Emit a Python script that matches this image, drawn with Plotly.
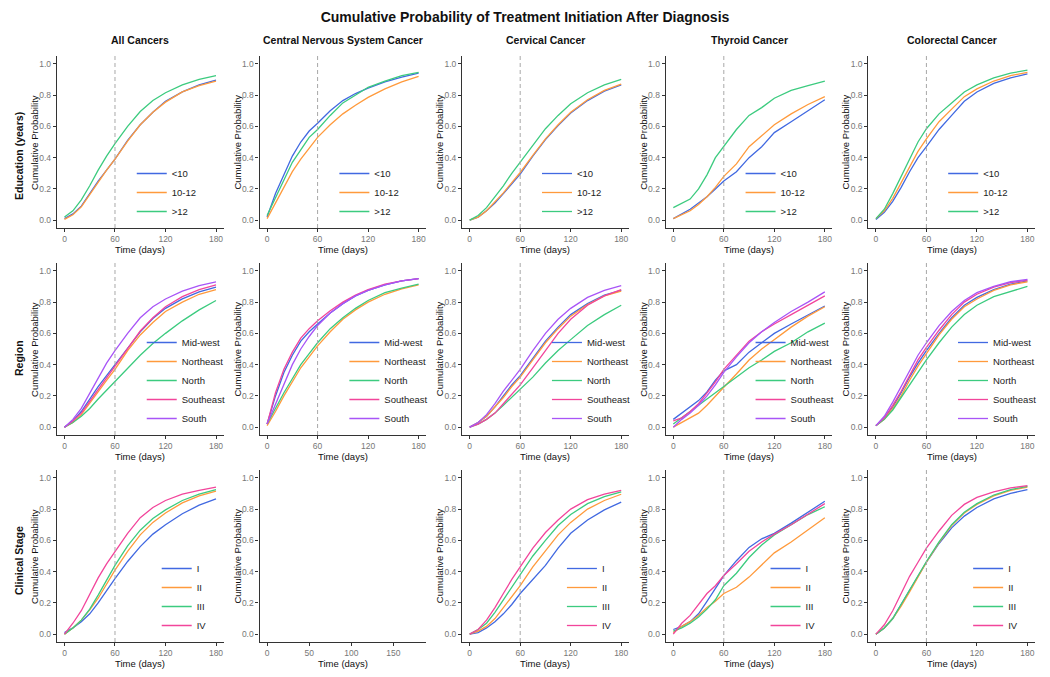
import plotly.graph_objects as go

days = [0, 10, 20, 30, 40, 50, 60, 75, 90, 105, 120, 140, 160, 180]

cancers = ["All Cancers", "Central Nervous System Cancer", "Cervical Cancer",
           "Thyroid Cancer", "Colorectal Cancer"]
row_labels = ["Education (years)", "Region", "Clinical Stage"]

colors = {
    "<10": "#4169E1", "10-12": "#FF9A3C", ">12": "#3CCB7F",
    "Mid-west": "#4169E1", "Northeast": "#FF9A3C", "North": "#3CCB7F",
    "Southeast": "#F2459B", "South": "#A855F7",
    "I": "#4169E1", "II": "#FF9A3C", "III": "#3CCB7F", "IV": "#F2459B",
}

# education (years)
edu_all = {
    "<10": [0.01, 0.04, 0.09, 0.17, 0.25, 0.32, 0.39, 0.51, 0.61, 0.69, 0.76, 0.82, 0.865, 0.895],
    "10-12": [0.005, 0.035, 0.085, 0.165, 0.245, 0.32, 0.39, 0.505, 0.61, 0.69, 0.755, 0.82, 0.86, 0.89],
    ">12": [0.02, 0.06, 0.13, 0.22, 0.32, 0.41, 0.49, 0.60, 0.695, 0.765, 0.815, 0.865, 0.90, 0.925],
}
edu_cns = {
    "<10": [0.02, 0.17, 0.29, 0.41, 0.50, 0.57, 0.62, 0.70, 0.765, 0.81, 0.845, 0.885, 0.915, 0.94],
    "10-12": [0.01, 0.11, 0.21, 0.31, 0.39, 0.46, 0.53, 0.61, 0.68, 0.735, 0.785, 0.84, 0.885, 0.92],
    ">12": [0.03, 0.14, 0.26, 0.37, 0.45, 0.53, 0.58, 0.67, 0.75, 0.80, 0.85, 0.89, 0.925, 0.945],
}
edu_cervical = {
    "<10": [0.0, 0.02, 0.06, 0.11, 0.17, 0.23, 0.295, 0.41, 0.515, 0.605, 0.685, 0.765, 0.825, 0.865],
    "10-12": [0.0, 0.02, 0.06, 0.115, 0.175, 0.24, 0.305, 0.415, 0.52, 0.61, 0.69, 0.77, 0.83, 0.87],
    ">12": [0.0, 0.03, 0.08, 0.15, 0.22, 0.30, 0.37, 0.48, 0.585, 0.67, 0.745, 0.815, 0.865, 0.90],
}
edu_thyroid = {
    "<10": [0.01, 0.04, 0.07, 0.11, 0.15, 0.20, 0.25, 0.31, 0.40, 0.47, 0.56, 0.63, 0.70, 0.77],
    "10-12": [0.01, 0.035, 0.06, 0.10, 0.15, 0.21, 0.28, 0.36, 0.47, 0.54, 0.61, 0.68, 0.74, 0.79],
    ">12": [0.08, 0.11, 0.135, 0.20, 0.29, 0.40, 0.47, 0.58, 0.67, 0.72, 0.78, 0.83, 0.86, 0.89],
}
edu_colorectal = {
    "<10": [0.005, 0.05, 0.12, 0.21, 0.31, 0.40, 0.47, 0.58, 0.67, 0.76, 0.82, 0.875, 0.91, 0.935],
    "10-12": [0.01, 0.06, 0.14, 0.24, 0.35, 0.44, 0.52, 0.63, 0.71, 0.79, 0.84, 0.89, 0.925, 0.945],
    ">12": [0.01, 0.07, 0.17, 0.28, 0.40, 0.50, 0.585, 0.68, 0.75, 0.82, 0.865, 0.91, 0.94, 0.96],
}

# region
region_all = {
    "Mid-west": [0.0, 0.04, 0.10, 0.18, 0.26, 0.33, 0.40, 0.51, 0.61, 0.695, 0.76, 0.82, 0.865, 0.895],
    "Northeast": [0.0, 0.03, 0.08, 0.155, 0.23, 0.30, 0.37, 0.49, 0.59, 0.67, 0.74, 0.80, 0.85, 0.88],
    "North": [0.0, 0.03, 0.07, 0.12, 0.18, 0.235, 0.29, 0.375, 0.46, 0.535, 0.60, 0.68, 0.75, 0.81],
    "Southeast": [0.0, 0.04, 0.09, 0.165, 0.24, 0.315, 0.39, 0.51, 0.615, 0.70, 0.77, 0.835, 0.88, 0.91],
    "South": [0.0, 0.05, 0.12, 0.22, 0.32, 0.41, 0.49, 0.60, 0.70, 0.77, 0.82, 0.87, 0.905, 0.93],
}
region_cns = {
    "Mid-west": [0.02, 0.20, 0.35, 0.46, 0.55, 0.61, 0.66, 0.73, 0.79, 0.84, 0.875, 0.91, 0.935, 0.95],
    "Northeast": [0.01, 0.10, 0.20, 0.29, 0.38, 0.45, 0.52, 0.61, 0.69, 0.75, 0.80, 0.85, 0.885, 0.91],
    "North": [0.02, 0.12, 0.22, 0.31, 0.40, 0.47, 0.54, 0.63, 0.70, 0.76, 0.81, 0.86, 0.89, 0.915],
    "Southeast": [0.02, 0.22, 0.37, 0.48, 0.57, 0.63, 0.68, 0.745, 0.80, 0.845, 0.88, 0.915, 0.935, 0.95],
    "South": [0.02, 0.15, 0.28, 0.40, 0.50, 0.58, 0.65, 0.73, 0.79, 0.84, 0.875, 0.91, 0.935, 0.95],
}
region_cervical = {
    "Mid-west": [0.0, 0.03, 0.07, 0.13, 0.20, 0.27, 0.33, 0.44, 0.55, 0.64, 0.72, 0.79, 0.845, 0.875],
    "Northeast": [0.0, 0.03, 0.07, 0.13, 0.19, 0.26, 0.32, 0.43, 0.54, 0.63, 0.71, 0.785, 0.84, 0.87],
    "North": [0.0, 0.02, 0.05, 0.09, 0.14, 0.19, 0.24, 0.32, 0.41, 0.49, 0.56, 0.65, 0.72, 0.78],
    "Southeast": [0.0, 0.02, 0.05, 0.09, 0.15, 0.21, 0.27, 0.38, 0.49, 0.60, 0.69, 0.78, 0.84, 0.88],
    "South": [0.0, 0.03, 0.08, 0.15, 0.23, 0.30, 0.37, 0.49, 0.60, 0.69, 0.76, 0.83, 0.875, 0.905],
}
region_thyroid = {
    "Mid-west": [0.05, 0.09, 0.13, 0.17, 0.225, 0.30, 0.36, 0.40, 0.48, 0.54, 0.60, 0.66, 0.72, 0.775],
    "Northeast": [0.0, 0.03, 0.06, 0.09, 0.14, 0.20, 0.255, 0.34, 0.43, 0.50, 0.56, 0.64, 0.71, 0.77],
    "North": [0.02, 0.06, 0.10, 0.14, 0.18, 0.22, 0.265, 0.32, 0.38, 0.43, 0.485, 0.54, 0.61, 0.665],
    "Southeast": [0.04, 0.06, 0.10, 0.15, 0.22, 0.29, 0.37, 0.46, 0.55, 0.61, 0.66, 0.72, 0.78, 0.84],
    "South": [0.0, 0.05, 0.09, 0.14, 0.20, 0.27, 0.35, 0.45, 0.54, 0.61, 0.67, 0.74, 0.80, 0.865],
}
region_colorectal = {
    "Mid-west": [0.01, 0.06, 0.13, 0.22, 0.32, 0.41, 0.49, 0.60, 0.70, 0.78, 0.83, 0.88, 0.915, 0.935],
    "Northeast": [0.01, 0.05, 0.12, 0.20, 0.30, 0.39, 0.47, 0.59, 0.69, 0.77, 0.82, 0.875, 0.91, 0.93],
    "North": [0.01, 0.05, 0.11, 0.19, 0.27, 0.35, 0.43, 0.54, 0.64, 0.72, 0.78, 0.835, 0.87, 0.90],
    "Southeast": [0.01, 0.06, 0.14, 0.23, 0.33, 0.43, 0.51, 0.62, 0.72, 0.80, 0.85, 0.895, 0.925, 0.94],
    "South": [0.01, 0.07, 0.16, 0.26, 0.37, 0.46, 0.54, 0.65, 0.74, 0.81, 0.86, 0.90, 0.93, 0.945],
}

# clinical stage (no CNS data)
stage_all = {
    "I": [0.01, 0.04, 0.08, 0.13, 0.20, 0.28, 0.355, 0.465, 0.56, 0.64, 0.70, 0.77, 0.825, 0.865],
    "II": [0.0, 0.04, 0.09, 0.155, 0.23, 0.32, 0.41, 0.53, 0.635, 0.715, 0.775, 0.84, 0.885, 0.915],
    "III": [0.0, 0.04, 0.09, 0.16, 0.25, 0.35, 0.44, 0.565, 0.665, 0.74, 0.795, 0.855, 0.895, 0.925],
    "IV": [0.0, 0.07, 0.15, 0.26, 0.36, 0.45, 0.53, 0.645, 0.745, 0.81, 0.855, 0.895, 0.92, 0.94],
}
stage_cervical = {
    "I": [0.0, 0.01, 0.04, 0.08, 0.13, 0.19, 0.26, 0.35, 0.44, 0.55, 0.645, 0.73, 0.795, 0.845],
    "II": [0.0, 0.02, 0.05, 0.10, 0.17, 0.24, 0.31, 0.43, 0.53, 0.635, 0.715, 0.80, 0.855, 0.895],
    "III": [0.0, 0.03, 0.07, 0.14, 0.22, 0.30, 0.375, 0.50, 0.60, 0.695, 0.765, 0.835, 0.88, 0.91],
    "IV": [0.0, 0.03, 0.09, 0.17, 0.26, 0.35, 0.43, 0.55, 0.65, 0.73, 0.80, 0.86, 0.895, 0.92],
}
stage_thyroid = {
    "I": [0.03, 0.05, 0.08, 0.13, 0.21, 0.29, 0.375, 0.47, 0.555, 0.61, 0.645, 0.71, 0.78, 0.85],
    "II": [0.01, 0.05, 0.08, 0.12, 0.17, 0.21, 0.26, 0.30, 0.365, 0.44, 0.52, 0.59, 0.67, 0.745],
    "III": [0.02, 0.04, 0.07, 0.11, 0.16, 0.22, 0.31, 0.39, 0.49, 0.57, 0.635, 0.70, 0.765, 0.815],
    "IV": [0.0, 0.07, 0.12, 0.19, 0.26, 0.31, 0.375, 0.45, 0.53, 0.59, 0.64, 0.70, 0.77, 0.835],
}
stage_colorectal = {
    "I": [0.0, 0.04, 0.10, 0.19, 0.28, 0.37, 0.46, 0.58, 0.68, 0.755, 0.81, 0.865, 0.90, 0.925],
    "II": [0.0, 0.04, 0.10, 0.18, 0.27, 0.37, 0.46, 0.585, 0.695, 0.775, 0.83, 0.885, 0.92, 0.94],
    "III": [0.0, 0.04, 0.10, 0.19, 0.28, 0.375, 0.465, 0.59, 0.70, 0.78, 0.835, 0.89, 0.925, 0.945],
    "IV": [0.0, 0.06, 0.15, 0.26, 0.37, 0.46, 0.55, 0.66, 0.76, 0.83, 0.875, 0.91, 0.935, 0.95],
}

panels = [
    [edu_all, edu_cns, edu_cervical, edu_thyroid, edu_colorectal],
    [region_all, region_cns, region_cervical, region_thyroid, region_colorectal],
    [stage_all, None, stage_cervical, stage_thyroid, stage_colorectal],
]

# page body has an 8px margin, so the figure is 16px smaller than the window
OFF = 8
W, H = 1050 - 2 * OFF, 677 - 2 * OFF


def px_x(v):
    return (v - OFF) / W


def px_y(v):
    return 1 - (v - OFF) / H


# panel geometry in window pixels
col_left = [57, 260, 463, 667, 870]
row_top = [56, 263, 470]
pw, ph = 167, 172
legend_offset = [75, 85, 100]
row_label_y = [156, 358, 560]

FONT = "Arial, Liberation Sans, sans-serif"
fig = go.Figure()
layout = {}
annotations = []
shapes = []
legend_n = 0

for r in range(3):
    for c in range(5):
        n = r * 5 + c + 1
        sfx = "" if n == 1 else str(n)
        left, top = col_left[c], row_top[r]
        data = panels[r][c]

        layout[f"xaxis{sfx}"] = dict(
            domain=[px_x(left), px_x(left + pw)], anchor=f"y{sfx}",
            range=[-9, 189],
            tickvals=[0, 60, 120, 180] if data is not None else [0, 50, 100, 150],
        )
        layout[f"yaxis{sfx}"] = dict(
            domain=[px_y(top + ph), px_y(top)], anchor=f"x{sfx}",
            range=[-0.05, 1.05], tickvals=[0, 0.2, 0.4, 0.6, 0.8, 1.0], tickformat=".1f",
        )
        annotations.append(dict(
            text="Time (days)", x=px_x(left + pw / 2), y=px_y(top + ph + 21),
            xanchor="center", yanchor="middle", xref="paper", yref="paper",
            showarrow=False, font=dict(size=9.5, color="#111"),
        ))
        annotations.append(dict(
            text="Cumulative Probability", x=px_x(left - 23), y=px_y(top + ph / 2),
            xanchor="center", yanchor="middle", xref="paper", yref="paper",
            showarrow=False, textangle=-90, font=dict(size=9.5, color="#111"),
        ))

        if data is None:
            # empty panel: keep the axes visible
            fig.add_trace(go.Scatter(x=[], y=[], mode="lines", showlegend=False,
                                     xaxis=f"x{sfx}", yaxis=f"y{sfx}"))
            continue

        legend_n += 1
        lg = "legend" if legend_n == 1 else f"legend{legend_n}"
        for name, vals in data.items():
            fig.add_trace(go.Scatter(
                x=days, y=vals, mode="lines", name=name,
                line=dict(color=colors[name], width=1.3),
                xaxis=f"x{sfx}", yaxis=f"y{sfx}", legend=lg,
            ))
        layout[lg] = dict(
            x=px_x(left + legend_offset[r]), xanchor="left",
            y=px_y(top + ph - 2), yanchor="bottom",
            bgcolor="rgba(0,0,0,0)", font=dict(size=9.5, color="#222"),
            itemwidth=30, tracegroupgap=0,
        )
        shapes.append(dict(
            type="line", xref=f"x{sfx}", yref=f"y{sfx} domain",
            x0=60, x1=60, y0=0, y1=1,
            line=dict(color="#a8a8a8", width=1, dash="4px,3px"),
        ))

for c, name in enumerate(cancers):
    annotations.append(dict(
        text=f"<b>{name}</b>", x=px_x(col_left[c] + pw / 2), y=px_y(40),
        xanchor="center", yanchor="middle",
        xref="paper", yref="paper", showarrow=False, font=dict(size=10.5, color="#111"),
    ))
for r, name in enumerate(row_labels):
    annotations.append(dict(
        text=f"<b>{name}</b>", x=px_x(19), y=px_y(row_label_y[r]),
        xanchor="center", yanchor="middle",
        xref="paper", yref="paper", showarrow=False, textangle=-90,
        font=dict(size=10.5, color="#111"),
    ))

fig.update_layout(**layout)
fig.update_xaxes(
    showline=True, linecolor="#333", linewidth=1.2, ticks="outside", ticklen=3,
    tickcolor="#333", tickfont=dict(size=8.5, color="#777"), showgrid=False, zeroline=False,
    automargin=False,
)
fig.update_yaxes(
    showline=True, linecolor="#333", linewidth=1.2, ticks="outside", ticklen=3,
    tickcolor="#333", tickfont=dict(size=8.5, color="#777"), showgrid=False, zeroline=False,
    automargin=False,
)
fig.update_layout(
    width=W, height=H,
    margin=dict(l=0, r=0, t=0, b=0),
    paper_bgcolor="white", plot_bgcolor="white",
    font=dict(family=FONT),
    title=dict(
        text="<b>Cumulative Probability of Treatment Initiation After Diagnosis</b>",
        x=0.5, xanchor="center", y=px_y(17), yanchor="middle",
        font=dict(size=14, color="#111"),
    ),
    annotations=annotations,
    shapes=shapes,
)

fig.write_html("out.html")
